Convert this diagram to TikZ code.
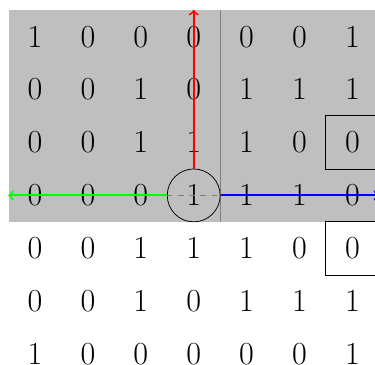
\documentclass[tikz,border=0pt]{standalone}
\usetikzlibrary{arrows,positioning}

\begin{document}
\begin{tikzpicture}[>=to,
        cell/.style={minimum size=1cm,inner sep=0pt,font=\LARGE},
        ring/.style={draw,circle,minimum size=1cm,inner sep=0pt},
        spoke/.style={->,line width=1pt}]

        \useasboundingbox (-0.662,0.694) rectangle (6.427,-6.206);

        % upper half shaded
        \fill[gray!50] (-0.5,0.5) rectangle (6.5,-3.5);
        \draw[gray] (3.5,0.5) -- (3.5,-3.5);

        \foreach \row [count=\i] in {{1,0,0,0,0,0,1},{0,0,1,0,1,1,1},
                                     {0,0,1,1,1,0,0},{0,0,0,1,1,1,0},
                                     {0,0,1,1,1,0,0},{0,0,1,0,1,1,1},
                                     {1,0,0,0,0,0,1}}
          \foreach \v [count=\j] in \row
            \node[cell] (c\i\j) at (\j-1,1-\i) {$\v$};

        \node[ring] (hub) at (c44) {};
        \draw[gray,dashed] (hub.west) -- (hub.east);

        \draw (c37.north west) rectangle (c37.south east);
        \draw (c57.north west) rectangle (c57.south east);

        \coordinate (n end) at (c14.north);
        \coordinate (w end) at (c41.west);
        \coordinate (e end) at (c47.east);

        \draw[spoke,red]   (hub.north) -- (n end);
        \draw[spoke,green] (hub.west) -- (w end);
        \draw[spoke,blue]  (hub.east) -- (e end);
      \end{tikzpicture}
\end{document}
